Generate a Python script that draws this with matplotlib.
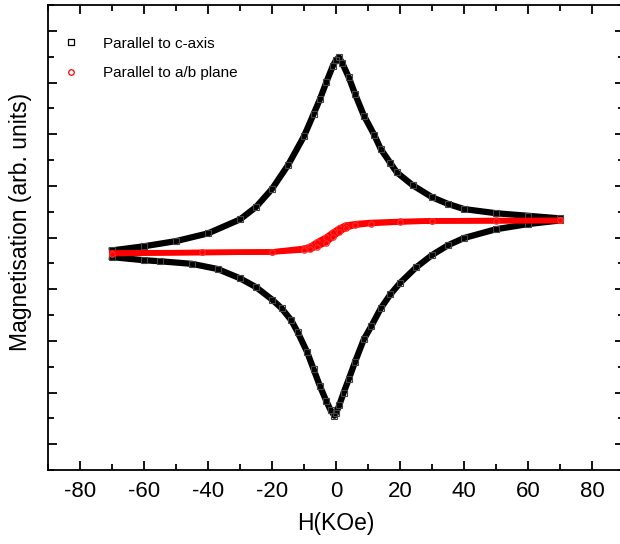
import numpy as np
import matplotlib
matplotlib.use('Agg')
import matplotlib.pyplot as plt
from matplotlib.lines import Line2D
from matplotlib.ticker import MultipleLocator, NullFormatter

plt.rcParams['font.family'] = ['Liberation Sans', 'DejaVu Sans']
plt.rcParams['axes.unicode_minus'] = False

# H parallel to c-axis: upper branch (-70 -> 70) and lower branch (70 -> -70)
c_up_H = [-70, -60, -50, -40, -30, -25, -20, -15, -10, -7, -5, -3, -1, 0, 0.9,
          2, 4, 6, 8.7, 12, 14, 17, 19, 24, 30, 35, 40, 50, 60, 70]
c_up_M = [-0.25, -0.17, -0.07, 0.08, 0.35, 0.59, 0.94, 1.40, 1.96, 2.39, 2.68, 3.01, 3.32, 3.43, 3.49,
          3.37, 3.10, 2.77, 2.36, 1.98, 1.71, 1.44, 1.26, 1.01, 0.78, 0.65, 0.55, 0.47, 0.42, 0.37]

c_dn_H = [70, 60, 50, 40, 35, 30, 25, 20, 17, 14, 11, 8.7, 6, 4, 2.4, 1, 0, -0.5,
          -1.7, -3, -5, -7, -9, -12, -14, -17, -20, -25, -30, -37, -45, -55, -60, -70]
c_dn_M = [0.33, 0.26, 0.16, -0.01, -0.15, -0.34, -0.58, -0.88, -1.10, -1.37, -1.72, -1.97, -2.40, -2.74, -3.00, -3.25, -3.40, -3.45,
          -3.34, -3.17, -2.88, -2.55, -2.22, -1.83, -1.60, -1.37, -1.20, -0.96, -0.79, -0.61, -0.51, -0.46, -0.44, -0.38]

# H parallel to a/b plane
ab_dn_H = [70, 50, 30, 20, 10.8, 6.6, 3, 1, -1, -3, -6, -8, -10, -20, -42, -70]
ab_dn_M = [0.33, 0.33, 0.32, 0.31, 0.29, 0.27, 0.24, 0.18, 0.10, 0.01, -0.09, -0.17, -0.21, -0.28, -0.29, -0.30]

ab_up_H = [-70, -42, -20, -10, -8, -6, -3, -1, 1, 3, 6, 10.8, 20, 30, 50, 70]
ab_up_M = [-0.31, -0.29, -0.28, -0.24, -0.23, -0.18, -0.10, 0.01, 0.10, 0.18, 0.24, 0.27, 0.30, 0.32, 0.32, 0.33]

fig = plt.figure(figsize=(6.2, 5.44), dpi=100)
ax = fig.add_axes([48 / 620, 74 / 544, 576 / 620, 465 / 544])

for H, M in [(c_up_H, c_up_M), (c_dn_H, c_dn_M)]:
    ax.plot(H, M, color='black', lw=4.5, marker='s', ms=4, mfc='none', mec='#444444', mew=0.8)

for H, M in [(ab_dn_H, ab_dn_M), (ab_up_H, ab_up_M)]:
    ax.plot(H, M, color='red', lw=4, marker='o', ms=4, mfc='none', mec='#ff3030', mew=0.8)

ax.set_xlim(-90, 90)
ax.set_ylim(-4.5, 4.5)
ax.xaxis.set_major_locator(MultipleLocator(20))
ax.xaxis.set_minor_locator(MultipleLocator(10))
ax.yaxis.set_major_locator(MultipleLocator(1))
ax.yaxis.set_minor_locator(MultipleLocator(0.5))
ax.yaxis.set_major_formatter(NullFormatter())

ax.tick_params(which='both', direction='in', top=True, right=True, width=1.3)
ax.tick_params(which='major', length=6.5, labelsize=16, pad=8)
ax.tick_params(which='minor', length=4)
for s in ax.spines.values():
    s.set_linewidth(1.3)

ax.set_xlabel('H(KOe)', fontsize=16.5)
ax.set_ylabel('Magnetisation (arb. units)', fontsize=16.5)
ax.xaxis.set_label_coords(0.5, -0.09)
ax.yaxis.set_label_coords(-0.028, 0.533)

handles = [
    Line2D([], [], ls='none', marker='s', ms=4, mfc='none', mec='black', mew=0.9),
    Line2D([], [], ls='none', marker='o', ms=4, mfc='none', mec='red', mew=0.9),
]
ax.legend(handles, ['Parallel to c-axis', 'Parallel to a/b plane'], loc='upper left',
          bbox_to_anchor=(0.013, 0.948), frameon=False, fontsize=11, borderpad=0,
          handlelength=1, handletextpad=1.6, labelspacing=1.0)

fig.savefig('out.png', dpi=100)
